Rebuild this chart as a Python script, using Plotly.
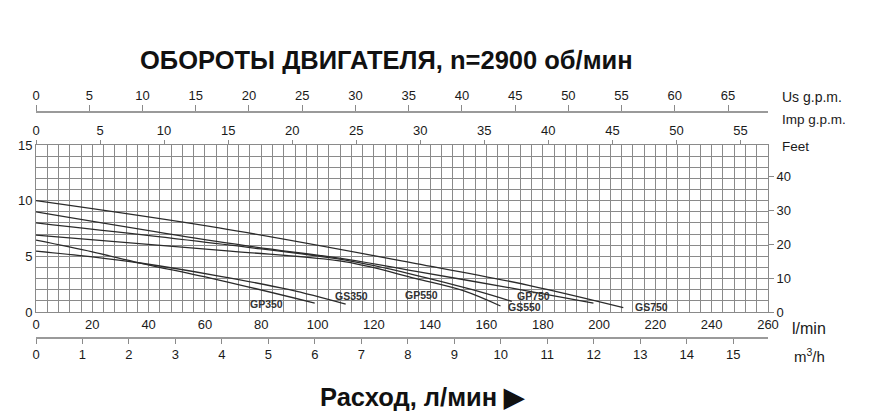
import plotly.graph_objects as go

# ---- data (flow in l/min, head in m) ----
gs750_q = [0, 65, 135, 175, 208.6]
gs750_h = [10.0, 7.55, 4.35, 2.4, 0.4]
gp750_q = [0, 69, 110, 135, 170, 198]
gp750_h = [9.0, 6.16, 4.75, 3.65, 2.1, 0.8]
gp550_q = [0, 69, 110, 135, 155, 169]
gp550_h = [8.0, 6.0, 4.65, 3.3, 2.0, 0.95]
gs550_q = [0, 69, 110, 135, 152, 165]
gs550_h = [6.9, 5.47, 4.5, 3.0, 1.9, 0.54]
gp350_q = [0, 20, 37, 65, 99]
gp350_h = [6.45, 5.4, 4.4, 2.87, 0.8]
gs350_q = [0, 20, 37, 65, 90, 110]
gs350_h = [5.47, 4.95, 4.4, 3.23, 2.0, 0.7]

series = [
    ("GS750", gs750_q, gs750_h),
    ("GP750", gp750_q, gp750_h),
    ("GP550", gp550_q, gp550_h),
    ("GS550", gs550_q, gs550_h),
    ("GP350", gp350_q, gp350_h),
    ("GS350", gs350_q, gs350_h),
]
# label anchor positions (l/min, m)
label_pos = {
    "GP350": (81.7, 0.72),
    "GS350": (111.9, 1.43),
    "GP550": (136.8, 1.52),
    "GS550": (173.4, 0.42),
    "GP750": (176.6, 1.42),
    "GS750": (218.5, 0.45),
}

title_text = "ОБОРОТЫ ДВИГАТЕЛЯ, n=2900 об/мин"
xlabel_text = "Расход, л/мин ▶"

W, H = 884, 420
def px(x):
    return x / W
def py(y):
    return 1 - y / H

FONT = "Liberation Sans"
GRID = "#8a8a8a"
TXT = "#1a1a1a"

fig = go.Figure()
for name, q, h in series:
    fig.add_trace(go.Scatter(x=q, y=h, mode="lines", name=name,
                             line=dict(color="#2b2b2b", width=1.3, shape="spline"),
                             hoverinfo="skip", showlegend=False))

dom_x = [px(36), px(768)]
dom_y = [py(312), py(145)]

fig.update_layout(
    width=W, height=H, autosize=False,
    margin=dict(l=0, r=0, t=0, b=0, pad=0),
    paper_bgcolor="white", plot_bgcolor="white",
    font=dict(family=FONT, color=TXT, size=13),
    xaxis=dict(domain=dom_x, range=[0, 260], anchor="y", tick0=0, dtick=20,
               showgrid=True, gridcolor=GRID, gridwidth=1, automargin=False,
               minor=dict(dtick=4, showgrid=True, gridcolor=GRID, gridwidth=1),
               showline=True, linecolor=GRID, linewidth=1, mirror=True,
               ticks="", zeroline=False, tickfont=dict(size=13)),
    yaxis=dict(domain=dom_y, range=[0, 15], anchor="x", tick0=0, dtick=5,
               showgrid=True, gridcolor=GRID, gridwidth=1, automargin=False,
               minor=dict(dtick=1, showgrid=True, gridcolor=GRID, gridwidth=1),
               showline=True, linecolor=GRID, linewidth=1, mirror=True,
               ticks="", zeroline=False, tickfont=dict(size=13)),
    yaxis2=dict(overlaying="y", side="right", anchor="x", range=[0, 15 * 3.28084],
                tick0=0, dtick=10, ticks="outside", ticklen=5, tickcolor=GRID,
                automargin=False,
                showgrid=False, zeroline=False, showline=False, tickfont=dict(size=13)),
    xaxis2=dict(overlaying="x", side="top", anchor="y", range=[0, 57.15],
                tick0=0, dtick=5, ticks="outside", ticklen=4, tickcolor=GRID,
                automargin=False,
                showgrid=False, zeroline=False, showline=False, tickfont=dict(size=13)),
    xaxis3=dict(overlaying="x", side="top", anchor="free", position=py(112),
                range=[0, 68.75], tick0=0, dtick=5, ticks="outside", ticklen=6,
                tickcolor=GRID, showgrid=False, zeroline=False, showline=True,
                automargin=False,
                linecolor="#9a9a9a", linewidth=1.5, tickfont=dict(size=13)),
    xaxis4=dict(overlaying="x", side="bottom", anchor="free", position=py(338),
                range=[0, 15.75], tick0=0, dtick=1, ticks="outside", ticklen=5,
                tickcolor=GRID, showgrid=False, zeroline=False, showline=True,
                automargin=False,
                linecolor="#9a9a9a", linewidth=1.5, tickfont=dict(size=13)),
)

# invisible traces to activate extra axes
fig.add_trace(go.Scatter(x=[0], y=[0], xaxis="x2", yaxis="y2", mode="markers",
                         marker=dict(opacity=0), hoverinfo="skip", showlegend=False))
fig.add_trace(go.Scatter(x=[0], y=[0], xaxis="x3", yaxis="y", mode="markers",
                         marker=dict(opacity=0), hoverinfo="skip", showlegend=False))
fig.add_trace(go.Scatter(x=[0], y=[0], xaxis="x4", yaxis="y", mode="markers",
                         marker=dict(opacity=0), hoverinfo="skip", showlegend=False))

for name, (lx, ly) in label_pos.items():
    fig.add_annotation(x=lx, y=ly, xref="x", yref="y", text="<b>" + name + "</b>",
                       showarrow=False, xanchor="center", yanchor="middle",
                       font=dict(size=10.5, color="#333333", family=FONT))

fig.add_annotation(x=px(386), y=py(60), xref="paper", yref="paper",
                   text="<b>" + title_text + "</b>", showarrow=False,
                   xanchor="center", yanchor="middle",
                   font=dict(size=25.5, color="#111111", family=FONT))
fig.add_annotation(x=px(422), y=py(397), xref="paper", yref="paper",
                   text="<b>" + xlabel_text + "</b>", showarrow=False,
                   xanchor="center", yanchor="middle",
                   font=dict(size=25.5, color="#111111", family=FONT))

side_labels = [
    ("Us g.p.m.", 780, 97, 14),
    ("Imp g.p.m.", 780, 119, 13.5),
    ("Feet", 780, 146, 13.5),
    ("l/min", 790, 328, 16),
    ("m<sup>3</sup>/h", 792, 355, 15),
]
for t, x, y, s in side_labels:
    fig.add_annotation(x=px(x), y=py(y), xref="paper", yref="paper", text=t,
                       xanchor="left", yanchor="middle", showarrow=False,
                       font=dict(size=s, color=TXT, family=FONT))

fig.write_html("out.html", config={"displayModeBar": False},
               post_script="document.body.style.margin='0px';")
